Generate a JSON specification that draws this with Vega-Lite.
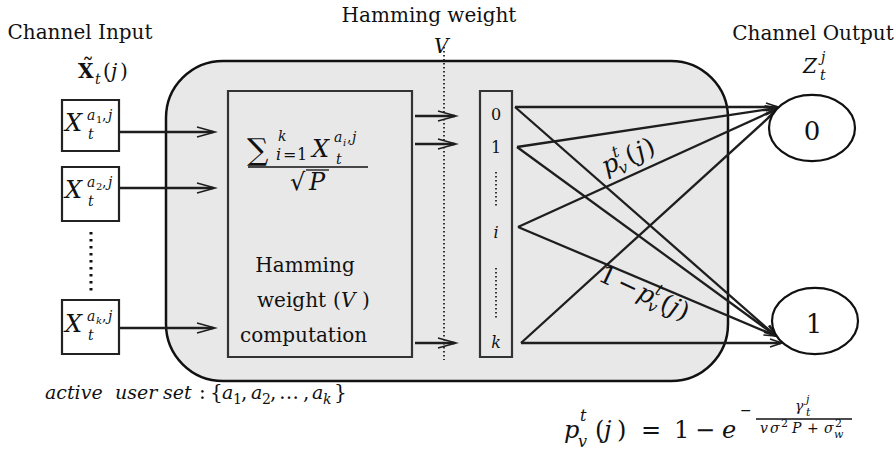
{
"$schema": "https://vega.github.io/schema/vega-lite/v6.json",
"width": 896, "height": 450, "padding": 0,
"autosize": {"type": "fit", "contains": "padding"},
"config": {"view": {"stroke": null}, "text": {"font": "DejaVu Serif", "color": "#111", "baseline": "alphabetic"}},
"datasets": {
"big": [{"x":166,"y":61,"x2":728,"y2":381}],
"open": [{"x":228,"y":91,"x2":412,"y2":357},{"x":480,"y":91,"x2":512,"y2":357}],
"white": [{"x":62,"y":100,"x2":119,"y2":151},{"x":62,"y":167,"x2":119,"y2":221},{"x":62,"y":300,"x2":119,"y2":354}],
"segs": [
{"x":119,"y":132,"x2":213,"y2":132},{"x":119,"y":188,"x2":213,"y2":188},{"x":119,"y":328,"x2":213,"y2":328},
{"x":415,"y":116,"x2":455,"y2":116},{"x":415,"y":144,"x2":455,"y2":144},{"x":415,"y":343,"x2":455,"y2":343},
{"x":515,"y":107,"x2":777,"y2":107},{"x":515,"y":107,"x2":776,"y2":336},
{"x":517,"y":147,"x2":777,"y2":108},{"x":517,"y":147,"x2":776,"y2":336},
{"x":518,"y":227,"x2":777,"y2":109},{"x":518,"y":227,"x2":776,"y2":336},
{"x":521,"y":343,"x2":777,"y2":110},{"x":521,"y":343,"x2":781,"y2":343}],
"thin": [{"x":248,"y":167,"x2":368,"y2":167},{"x":306,"y":170,"x2":329,"y2":170},{"x":756,"y":419,"x2":852,"y2":419}],
"dotthick": [{"x":91,"y":232,"x2":91,"y2":295}],
"dotthin": [{"x":444,"y":47,"x2":444,"y2":360},{"x":496,"y":172,"x2":496,"y2":207},{"x":496,"y":268,"x2":496,"y2":318}],
"heads": [
{"id":"H","x":215,"y":132},{"id":"H","x":215,"y":188},{"id":"H","x":215,"y":328},
{"id":"H","x":456,"y":116},{"id":"H","x":456,"y":144},{"id":"H","x":456,"y":343},
{"id":"O0","x":778,"y":107},{"id":"O0","x":782,"y":343},
{"id":"D1","x":776,"y":336},{"id":"D2","x":777,"y":108},{"id":"D3","x":776,"y":336},
{"id":"D4","x":777,"y":109},{"id":"D5","x":776,"y":336},{"id":"D6","x":777,"y":110}],
"ell": [{"x":812,"y":128},{"x":815,"y":321}],
"txt": [
{"k":"C24","x":80,"y":39,"t":"Channel Input"},
{"k":"C24","x":429,"y":22,"t":"Hamming weight"},
{"k":"C24","x":813,"y":40,"t":"Channel Output"},
{"k":"C24","x":305,"y":272,"t":"Hamming"},
{"k":"L24","x":257,"y":307,"t":"weight"},
{"k":"L24","x":333,"y":307,"t":"("},
{"k":"L24","x":362,"y":307,"t":")"},
{"k":"L24","x":240,"y":342,"t":"computation"},
{"k":"L24","x":199,"y":399,"t":":"},
{"k":"L24","x":210,"y":399,"t":"{"},
{"k":"L24","x":241,"y":399,"t":","},
{"k":"L24","x":270,"y":399,"t":","},
{"k":"L24","x":279,"y":399,"t":"…"},
{"k":"L24","x":303,"y":399,"t":","},
{"k":"L24","x":334,"y":399,"t":"}"},
{"k":"I24","x":341,"y":307,"t":"V"},
{"k":"I24","x":434,"y":53,"t":"V"},
{"k":"IB","x":45,"y":399,"t":"active"},
{"k":"IB","x":115,"y":399,"t":"user"},
{"k":"IB","x":163,"y":399,"t":"set"},
{"k":"IB","x":222,"y":399,"t":"a"},
{"k":"IB","x":251,"y":399,"t":"a"},
{"k":"IB","x":312,"y":399,"t":"a"},
{"k":"R16","x":233,"y":404,"t":"1"},
{"k":"R16","x":262,"y":404,"t":"2"},
{"k":"I16","x":323,"y":404,"t":"k"},
{"k":"I26","x":65,"y":131,"t":"X"},
{"k":"I26","x":65,"y":198,"t":"X"},
{"k":"I26","x":65,"y":332,"t":"X"},
{"k":"I26","x":312,"y":157,"t":"X"},
{"k":"I16","x":88,"y":139,"t":"t"},
{"k":"I16","x":88,"y":206,"t":"t"},
{"k":"I16","x":88,"y":340,"t":"t"},
{"k":"I16","x":87,"y":120,"t":"a"},
{"k":"I16","x":87,"y":187,"t":"a"},
{"k":"I16","x":87,"y":321,"t":"a"},
{"k":"I16","x":108,"y":120,"t":"j"},
{"k":"I16","x":108,"y":187,"t":"j"},
{"k":"I16","x":108,"y":321,"t":"j"},
{"k":"R16","x":102,"y":120,"t":","},
{"k":"R16","x":102,"y":187,"t":","},
{"k":"R16","x":102,"y":321,"t":","},
{"k":"R11","x":96,"y":123,"t":"1"},
{"k":"R11","x":96,"y":190,"t":"2"},
{"k":"I11","x":96,"y":324,"t":"k"},
{"k":"SUM","x":247,"y":160,"t":"∑"},
{"k":"R26","x":290,"y":190,"t":"√"},
{"k":"I26","x":309,"y":190,"t":"P"},
{"k":"I16","x":278,"y":141,"t":"k"},
{"k":"I16","x":334,"y":142,"t":"a"},
{"k":"I16","x":352,"y":142,"t":"j"},
{"k":"I16","x":336,"y":164,"t":"t"},
{"k":"I11","x":343,"y":146,"t":"i"},
{"k":"R16","x":347,"y":142,"t":","},
{"k":"I18","x":276,"y":160,"t":"i"},
{"k":"R18","x":283,"y":160,"t":"="},
{"k":"R18","x":297,"y":160,"t":"1"},
{"k":"B22","x":78,"y":78,"t":"X"},
{"k":"TL","x":88,"y":76,"t":"˜"},
{"k":"R22","x":103,"y":78,"t":"("},
{"k":"R22","x":120,"y":78,"t":")"},
{"k":"I22","x":111,"y":78,"t":"j"},
{"k":"I22","x":803,"y":73,"t":"Z"},
{"k":"I16","x":95,"y":84,"t":"t"},
{"k":"I16","x":821,"y":62,"t":"j"},
{"k":"I16","x":820,"y":80,"t":"t"},
{"k":"C18","x":496,"y":120,"t":"0"},
{"k":"C18","x":496,"y":153,"t":"1"},
{"k":"CI18","x":496,"y":238,"t":"i"},
{"k":"CI18","x":496,"y":348,"t":"k"},
{"k":"C28","x":812,"y":140,"t":"0"},
{"k":"C28","x":814,"y":333,"t":"1"},
{"k":"I27","x":564,"y":438,"t":"p"},
{"k":"I27","x":604,"y":438,"t":"j"},
{"k":"I27","x":722,"y":438,"t":"e"},
{"k":"R27","x":595,"y":438,"t":"("},
{"k":"R27","x":617,"y":438,"t":")"},
{"k":"R27","x":641,"y":438,"t":"="},
{"k":"R27","x":674,"y":438,"t":"1"},
{"k":"R27","x":695,"y":438,"t":"−"},
{"k":"I18","x":580,"y":421,"t":"t"},
{"k":"I18","x":578,"y":447,"t":"v"},
{"k":"R16","x":740,"y":415,"t":"−"},
{"k":"R16","x":807,"y":433,"t":"+"},
{"k":"I16","x":795,"y":411,"t":"γ"},
{"k":"I16","x":760,"y":433,"t":"v"},
{"k":"I16","x":770,"y":433,"t":"σ"},
{"k":"I16","x":792,"y":433,"t":"P"},
{"k":"I16","x":824,"y":433,"t":"σ"},
{"k":"I12","x":806,"y":403,"t":"j"},
{"k":"I12","x":806,"y":416,"t":"t"},
{"k":"I12","x":834,"y":438,"t":"w"},
{"k":"R12","x":781,"y":427,"t":"2"},
{"k":"R12","x":835,"y":427,"t":"2"},
{"k":"R1I","x":606,"y":175,"t":"p"},
{"k":"R1I","x":639.8,"y":159.9,"t":"j"},
{"k":"R1R","x":629.8,"y":164.4,"t":"("},
{"k":"R1R","x":648,"y":156.3,"t":")"},
{"k":"R1S","x":621.2,"y":174.8,"t":"v"},
{"k":"R1S","x":614.4,"y":158.1,"t":"t"},
{"k":"R2R","x":597,"y":280,"t":"1"},
{"k":"R2R","x":615.1,"y":288.5,"t":"−"},
{"k":"R2R","x":658.6,"y":308.8,"t":"("},
{"k":"R2R","x":675.8,"y":316.8,"t":")"},
{"k":"R2I","x":635.8,"y":298.1,"t":"p"},
{"k":"R2I","x":667.7,"y":313,"t":"j"},
{"k":"R2S","x":646,"y":309.4,"t":"v"},
{"k":"R2S","x":654.2,"y":293.4,"t":"t"}
]
},
"encoding": {
"x": {"field": "x", "type": "quantitative", "scale": {"domain": [0, 896], "nice": false, "zero": false}, "axis": null},
"y": {"field": "y", "type": "quantitative", "scale": {"domain": [0, 450], "nice": false, "zero": false, "reverse": true}, "axis": null}
},
"layer": [
{"data": {"name": "big"}, "mark": {"type": "rect", "cornerRadius": 57, "fill": "#e8e8e8", "stroke": "#111", "strokeWidth": 2.5}, "encoding": {"x2": {"field": "x2"}, "y2": {"field": "y2"}}},
{"data": {"name": "open"}, "mark": {"type": "rect", "filled": false, "fill": null, "stroke": "#333", "strokeWidth": 2.2}, "encoding": {"x2": {"field": "x2"}, "y2": {"field": "y2"}}},
{"data": {"name": "white"}, "mark": {"type": "rect", "fill": "white", "stroke": "#222", "strokeWidth": 2.2}, "encoding": {"x2": {"field": "x2"}, "y2": {"field": "y2"}}},
{"data": {"name": "dotthick"}, "mark": {"type": "rule", "stroke": "#111", "strokeWidth": 3, "strokeDash": [2.5, 4.5]}, "encoding": {"x2": {"field": "x2"}, "y2": {"field": "y2"}}},
{"data": {"name": "dotthin"}, "mark": {"type": "rule", "stroke": "#222", "strokeWidth": 1.8, "strokeDash": [1.5, 2.5]}, "encoding": {"x2": {"field": "x2"}, "y2": {"field": "y2"}}},
{"data": {"name": "segs"}, "mark": {"type": "rule", "stroke": "#1e1e1e", "strokeWidth": 2.3}, "encoding": {"x2": {"field": "x2"}, "y2": {"field": "y2"}}},
{"data": {"name": "thin"}, "mark": {"type": "rule", "stroke": "#111", "strokeWidth": 1.3}, "encoding": {"x2": {"field": "x2"}, "y2": {"field": "y2"}}},
{"data": {"name": "heads"}, "transform": [{"filter": "datum.id === 'H'"}], "mark": {"type": "point", "shape": "M-1,-0.28L0,0L-1,0.28", "size": 1296, "filled": false, "stroke": "#1e1e1e", "strokeWidth": 1.6, "opacity": 1}},
{"data": {"name": "heads"}, "transform": [{"filter": "datum.id === 'O0'"}], "mark": {"type": "point", "shape": "M-1,-0.33L0,0L-1,0.33", "size": 576, "filled": false, "stroke": "#1e1e1e", "strokeWidth": 1.6, "opacity": 1, "angle": 0}},
{"data": {"name": "heads"}, "transform": [{"filter": "datum.id === 'D1'"}], "mark": {"type": "point", "shape": "M-1,-0.33L0,0L-1,0.33", "size": 576, "filled": false, "stroke": "#1e1e1e", "strokeWidth": 1.6, "opacity": 1, "angle": 41.3}},
{"data": {"name": "heads"}, "transform": [{"filter": "datum.id === 'D2'"}], "mark": {"type": "point", "shape": "M-1,-0.33L0,0L-1,0.33", "size": 576, "filled": false, "stroke": "#1e1e1e", "strokeWidth": 1.6, "opacity": 1, "angle": -8.5}},
{"data": {"name": "heads"}, "transform": [{"filter": "datum.id === 'D3'"}], "mark": {"type": "point", "shape": "M-1,-0.33L0,0L-1,0.33", "size": 576, "filled": false, "stroke": "#1e1e1e", "strokeWidth": 1.6, "opacity": 1, "angle": 36.1}},
{"data": {"name": "heads"}, "transform": [{"filter": "datum.id === 'D4'"}], "mark": {"type": "point", "shape": "M-1,-0.33L0,0L-1,0.33", "size": 576, "filled": false, "stroke": "#1e1e1e", "strokeWidth": 1.6, "opacity": 1, "angle": -24.4}},
{"data": {"name": "heads"}, "transform": [{"filter": "datum.id === 'D5'"}], "mark": {"type": "point", "shape": "M-1,-0.33L0,0L-1,0.33", "size": 576, "filled": false, "stroke": "#1e1e1e", "strokeWidth": 1.6, "opacity": 1, "angle": 22.9}},
{"data": {"name": "heads"}, "transform": [{"filter": "datum.id === 'D6'"}], "mark": {"type": "point", "shape": "M-1,-0.33L0,0L-1,0.33", "size": 576, "filled": false, "stroke": "#1e1e1e", "strokeWidth": 1.6, "opacity": 1, "angle": -42.2}},
{"data": {"name": "ell"}, "mark": {"type": "point", "shape": "M-1,0C-1,-0.4253,-0.5523,-0.77,0,-0.77C0.5523,-0.77,1,-0.4253,1,0C1,0.4253,0.5523,0.77,0,0.77C-0.5523,0.77,-1,0.4253,-1,0Z", "size": 7396, "filled": true, "fill": "white", "stroke": "#111", "strokeWidth": 2.2, "opacity": 1}},
{"data": {"name": "txt"}, "transform": [{"filter": "datum.k === 'C24'"}], "mark": {"type": "text", "fontSize": 20, "align": "center"}, "encoding": {"text": {"field": "t"}}},
{"data": {"name": "txt"}, "transform": [{"filter": "datum.k === 'L24'"}], "mark": {"type": "text", "fontSize": 20, "align": "left"}, "encoding": {"text": {"field": "t"}}},
{"data": {"name": "txt"}, "transform": [{"filter": "datum.k === 'I24'"}], "mark": {"type": "text", "fontSize": 20, "fontStyle": "italic", "align": "left"}, "encoding": {"text": {"field": "t"}}},
{"data": {"name": "txt"}, "transform": [{"filter": "datum.k === 'IB'"}], "mark": {"type": "text", "fontSize": 19, "fontStyle": "italic", "align": "left"}, "encoding": {"text": {"field": "t"}}},
{"data": {"name": "txt"}, "transform": [{"filter": "datum.k === 'I26'"}], "mark": {"type": "text", "fontSize": 24, "fontStyle": "italic", "align": "left"}, "encoding": {"text": {"field": "t"}}},
{"data": {"name": "txt"}, "transform": [{"filter": "datum.k === 'R26'"}], "mark": {"type": "text", "fontSize": 24, "align": "left"}, "encoding": {"text": {"field": "t"}}},
{"data": {"name": "txt"}, "transform": [{"filter": "datum.k === 'SUM'"}], "mark": {"type": "text", "fontSize": 30, "align": "left"}, "encoding": {"text": {"field": "t"}}},
{"data": {"name": "txt"}, "transform": [{"filter": "datum.k === 'B22'"}], "mark": {"type": "text", "fontSize": 20, "fontWeight": "bold", "align": "left"}, "encoding": {"text": {"field": "t"}}},
{"data": {"name": "txt"}, "transform": [{"filter": "datum.k === 'TL'"}], "mark": {"type": "text", "fontSize": 24, "align": "center"}, "encoding": {"text": {"field": "t"}}},
{"data": {"name": "txt"}, "transform": [{"filter": "datum.k === 'R22'"}], "mark": {"type": "text", "fontSize": 20, "align": "left"}, "encoding": {"text": {"field": "t"}}},
{"data": {"name": "txt"}, "transform": [{"filter": "datum.k === 'I22'"}], "mark": {"type": "text", "fontSize": 20, "fontStyle": "italic", "align": "left"}, "encoding": {"text": {"field": "t"}}},
{"data": {"name": "txt"}, "transform": [{"filter": "datum.k === 'I16'"}], "mark": {"type": "text", "fontSize": 14, "fontStyle": "italic", "align": "left"}, "encoding": {"text": {"field": "t"}}},
{"data": {"name": "txt"}, "transform": [{"filter": "datum.k === 'R16'"}], "mark": {"type": "text", "fontSize": 14, "align": "left"}, "encoding": {"text": {"field": "t"}}},
{"data": {"name": "txt"}, "transform": [{"filter": "datum.k === 'I18'"}], "mark": {"type": "text", "fontSize": 16, "fontStyle": "italic", "align": "left"}, "encoding": {"text": {"field": "t"}}},
{"data": {"name": "txt"}, "transform": [{"filter": "datum.k === 'R18'"}], "mark": {"type": "text", "fontSize": 16, "align": "left"}, "encoding": {"text": {"field": "t"}}},
{"data": {"name": "txt"}, "transform": [{"filter": "datum.k === 'I11'"}], "mark": {"type": "text", "fontSize": 10, "fontStyle": "italic", "align": "left"}, "encoding": {"text": {"field": "t"}}},
{"data": {"name": "txt"}, "transform": [{"filter": "datum.k === 'R11'"}], "mark": {"type": "text", "fontSize": 10, "align": "left"}, "encoding": {"text": {"field": "t"}}},
{"data": {"name": "txt"}, "transform": [{"filter": "datum.k === 'I12'"}], "mark": {"type": "text", "fontSize": 11, "fontStyle": "italic", "align": "left"}, "encoding": {"text": {"field": "t"}}},
{"data": {"name": "txt"}, "transform": [{"filter": "datum.k === 'R12'"}], "mark": {"type": "text", "fontSize": 11, "align": "left"}, "encoding": {"text": {"field": "t"}}},
{"data": {"name": "txt"}, "transform": [{"filter": "datum.k === 'C18'"}], "mark": {"type": "text", "fontSize": 16, "align": "center"}, "encoding": {"text": {"field": "t"}}},
{"data": {"name": "txt"}, "transform": [{"filter": "datum.k === 'CI18'"}], "mark": {"type": "text", "fontSize": 16, "fontStyle": "italic", "align": "center"}, "encoding": {"text": {"field": "t"}}},
{"data": {"name": "txt"}, "transform": [{"filter": "datum.k === 'C28'"}], "mark": {"type": "text", "fontSize": 26, "align": "center"}, "encoding": {"text": {"field": "t"}}},
{"data": {"name": "txt"}, "transform": [{"filter": "datum.k === 'I27'"}], "mark": {"type": "text", "fontSize": 24, "fontStyle": "italic", "align": "left"}, "encoding": {"text": {"field": "t"}}},
{"data": {"name": "txt"}, "transform": [{"filter": "datum.k === 'R27'"}], "mark": {"type": "text", "fontSize": 24, "align": "left"}, "encoding": {"text": {"field": "t"}}},
{"data": {"name": "txt"}, "transform": [{"filter": "datum.k === 'R1I'"}], "mark": {"type": "text", "fontSize": 25, "fontStyle": "italic", "align": "left", "angle": -24}, "encoding": {"text": {"field": "t"}}},
{"data": {"name": "txt"}, "transform": [{"filter": "datum.k === 'R1R'"}], "mark": {"type": "text", "fontSize": 25, "align": "left", "angle": -24}, "encoding": {"text": {"field": "t"}}},
{"data": {"name": "txt"}, "transform": [{"filter": "datum.k === 'R1S'"}], "mark": {"type": "text", "fontSize": 16, "fontStyle": "italic", "align": "left", "angle": -24}, "encoding": {"text": {"field": "t"}}},
{"data": {"name": "txt"}, "transform": [{"filter": "datum.k === 'R2R'"}], "mark": {"type": "text", "fontSize": 25, "align": "left", "angle": 25}, "encoding": {"text": {"field": "t"}}},
{"data": {"name": "txt"}, "transform": [{"filter": "datum.k === 'R2I'"}], "mark": {"type": "text", "fontSize": 25, "fontStyle": "italic", "align": "left", "angle": 25}, "encoding": {"text": {"field": "t"}}},
{"data": {"name": "txt"}, "transform": [{"filter": "datum.k === 'R2S'"}], "mark": {"type": "text", "fontSize": 16, "fontStyle": "italic", "align": "left", "angle": 25}, "encoding": {"text": {"field": "t"}}}
]
}
